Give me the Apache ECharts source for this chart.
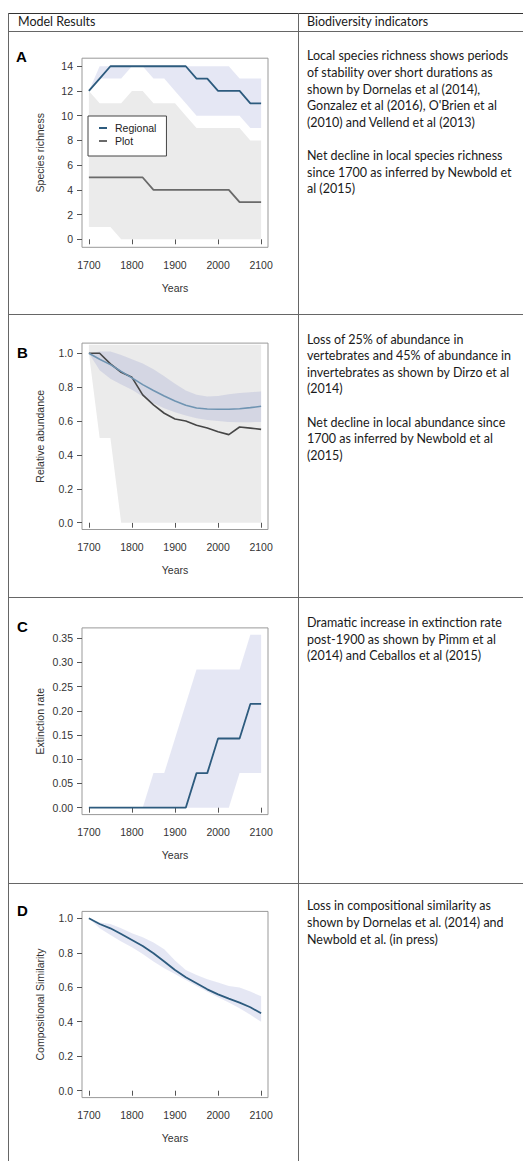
<!DOCTYPE html>
<html>
<head>
<meta charset="utf-8">
<script src="https://cdn.jsdelivr.net/npm/echarts@6/dist/echarts.min.js"></script>
<style>
html,body{margin:0;padding:0;background:#fff;width:523px;height:1161px;overflow:hidden}
#chart{position:absolute;left:0;top:0;width:523px;height:1161px}
.ln{position:absolute;background:#555}
.t{position:absolute;font-family:Lato,"Open Sans",sans-serif;font-size:12.5px;line-height:16.6px;color:#1a1a1a;white-space:nowrap}
.lab{position:absolute;font-family:"Liberation Sans",Arial,sans-serif;font-weight:bold;font-size:15px;line-height:16px;color:#000}
</style>
</head>
<body>
<div id="chart"></div>
<!-- table frame -->
<div class="ln" style="left:8px;top:13px;width:515px;height:1px;background:#333"></div>
<div class="ln" style="left:8px;top:31px;width:515px;height:1px;background:#666"></div>
<div class="ln" style="left:8px;top:314px;width:515px;height:1px;background:#666"></div>
<div class="ln" style="left:8px;top:597px;width:515px;height:1px;background:#666"></div>
<div class="ln" style="left:8px;top:883px;width:515px;height:1px;background:#666"></div>
<div class="ln" style="left:8px;top:13px;width:1px;height:1148px;background:#666"></div>
<div class="ln" style="left:298px;top:13px;width:1px;height:1148px;background:#666"></div>
<!-- header -->
<div class="t" style="left:18px;top:14px">Model Results</div>
<div class="t" style="left:307px;top:14px">Biodiversity indicators</div>
<!-- panel letters -->
<div class="lab" style="left:16px;top:49px">A</div>
<div class="lab" style="left:17px;top:345px">B</div>
<div class="lab" style="left:17px;top:619px">C</div>
<div class="lab" style="left:17px;top:903px">D</div>
<!-- indicator texts -->
<div class="t" style="left:307px;top:48.4px">Local species richness shows periods<br>of stability over short durations as<br>shown by Dornelas et al (2014),<br>Gonzalez et al (2016), O'Brien et al<br>(2010) and Vellend et al (2013)<br><br>Net decline in local species richness<br>since 1700 as inferred by Newbold et<br>al (2015)</div>
<div class="t" style="left:307px;top:331.7px">Loss of 25% of abundance in<br>vertebrates and 45% of abundance in<br>invertebrates as shown by Dirzo et al<br>(2014)<br><br>Net decline in local abundance since<br>1700 as inferred by Newbold et al<br>(2015)</div>
<div class="t" style="left:307px;top:615px">Dramatic increase in extinction rate<br>post-1900 as shown by Pimm et al<br>(2014) and Ceballos et al (2015)</div>
<div class="t" style="left:307px;top:898.4px">Loss in compositional similarity as<br>shown by Dornelas et al. (2014) and<br>Newbold et al. (in press)</div>
<script>
// ---------------- DATA ----------------
const years = [1700,1725,1750,1775,1800,1825,1850,1875,1900,1925,1950,1975,2000,2025,2050,2075,2100];

// Panel A: species richness
const regionalA   = [12,13,14,14,14,14,14,14,14,14,13,13,12,12,12,11,11];
const regionalLoA = [12,13,13,13,14,14,13,13,12,11,10,10,10,10,10,9,9];
const regionalHiA = [12,14,14,14,14,14,14,14,14,14,14,14,14,14,13,13,13];
const plotA       = [5,5,5,5,5,5,4,4,4,4,4,4,4,4,3,3,3];
const plotLoA     = [1,1,1,0,0,0,0,0,0,0,0,0,0,0,0,0,0];
const plotHiA     = [12,11,11,11,12,12,11,11,11,10,9,9,9,9,9,8,8];

// Panel B: relative abundance
const regionalB   = [1.0,0.965,0.933,0.893,0.855,0.815,0.78,0.748,0.718,0.693,0.677,0.671,0.670,0.670,0.673,0.679,0.687];
const regionalLoB = [1.0,0.9,0.85,0.815,0.785,0.745,0.705,0.675,0.652,0.633,0.617,0.606,0.6,0.595,0.593,0.593,0.595];
const regionalHiB = [1.0,1.01,1.01,0.99,0.965,0.94,0.905,0.865,0.82,0.78,0.755,0.745,0.748,0.758,0.765,0.77,0.775];
const plotB       = [1.0,1.0,0.937,0.888,0.858,0.754,0.695,0.646,0.612,0.6,0.575,0.559,0.537,0.52,0.565,0.558,0.551];
const plotLoB     = [1.0,0.5,0.5,0,0,0,0,0,0,0,0,0,0,0,0,0,0];
const plotHiB     = [1.05,1.05,1.05,1.05,1.05,1.05,1.05,1.05,1.05,1.05,1.05,1.05,1.05,1.05,1.05,1.05,1.05];

// Panel C: extinction rate
const regionalC   = [0,0,0,0,0,0,0,0,0,0,0.0714,0.0714,0.1429,0.1429,0.1429,0.2143,0.2143];
const regionalLoC = [0,0,0,0,0,0,0,0,0,0,0,0,0,0,0.0714,0.0714,0.0714];
const regionalHiC = [0,0,0,0,0,0,0.0714,0.0714,0.1429,0.2143,0.2857,0.2857,0.2857,0.2857,0.2857,0.3571,0.3571];

// Panel D: compositional similarity
const regionalD   = [1.0,0.967,0.942,0.909,0.874,0.839,0.797,0.749,0.70,0.658,0.623,0.588,0.559,0.534,0.511,0.484,0.449];
const regionalLoD = [1.0,0.942,0.903,0.865,0.832,0.793,0.749,0.71,0.677,0.642,0.607,0.574,0.542,0.511,0.478,0.44,0.40];
const regionalHiD = [1.0,0.975,0.967,0.942,0.913,0.89,0.859,0.82,0.755,0.70,0.671,0.646,0.627,0.607,0.598,0.575,0.548];

// Tick labels
const xTicks  = [1700,1800,1900,2000,2100];
const yTicksA = [0,2,4,6,8,10,12,14];
const yTicksB = [0,0.2,0.4,0.6,0.8,1.0];
const yTicksC = [0,0.05,0.1,0.15,0.2,0.25,0.3,0.35];
const yTicksD = [0,0.2,0.4,0.6,0.8,1.0];
const yNames  = ['Species richness','Relative abundance','Extinction rate','Compositional Similarity'];

// ---------------- STYLE / LAYOUT ----------------
const FONT = '"Liberation Sans", Arial, sans-serif';
const GRAY_BAND = '#ebebeb';
const LAV_BAND = 'rgba(95,105,185,0.16)';
const BLUE = '#2d5b7e';
const grids = [
  {top:58.2, height:189.1},
  {top:343.1, height:186.4},
  {top:627.9, height:186.7},
  {top:911.4, height:186.2}
];
const yRanges = [[-0.65,14.65],[-0.04,1.06],[-0.0143,0.3714],[-0.04,1.04]];
const yTickSets = [yTicksA,yTicksB,yTicksC,yTicksD];
const yDigits = [0,1,2,1];

function xAx(i){
  return {gridIndex:i,type:'value',min:1684,max:2116,
    axisLine:{show:false},splitLine:{show:false},
    axisTick:{show:true,length:5,lineStyle:{color:'#555'},customValues:xTicks},
    axisLabel:{customValues:xTicks,margin:12,fontSize:10.5,color:'#333',fontFamily:FONT,
      formatter:v=>String(Math.round(v))},
    name:'Years',nameLocation:'middle',nameGap:35,
    nameTextStyle:{fontSize:10.5,color:'#333',fontFamily:FONT}};
}
function yAx(i){
  const d=yDigits[i];
  return {gridIndex:i,type:'value',min:yRanges[i][0],max:yRanges[i][1],
    axisLine:{show:false},splitLine:{show:false},
    axisTick:{show:true,length:5,lineStyle:{color:'#555'},customValues:yTickSets[i]},
    axisLabel:{customValues:yTickSets[i],margin:9,fontSize:10.5,color:'#333',fontFamily:FONT,
      formatter:v=>Number(v).toFixed(d)},
    name:yNames[i],nameLocation:'middle',nameGap:37,nameRotate:90,
    nameTextStyle:{fontSize:10.5,color:'#333',fontFamily:FONT}};
}
function ribbon(i,lo,hi,color,z){
  return {type:'custom',xAxisIndex:i,yAxisIndex:i,z:z,silent:true,
    data:years.map((y,k)=>[y,lo[k],hi[k]]),
    encode:{x:0,y:[1,2]},
    renderItem:function(params,api){
      if(params.dataIndex!==0) return null;
      const pts=[];
      for(let k=0;k<years.length;k++) pts.push(api.coord([years[k],hi[k]]));
      for(let k=years.length-1;k>=0;k--) pts.push(api.coord([years[k],lo[k]]));
      return {type:'polygon',shape:{points:pts},style:{fill:color}};
    }};
}
function line(i,vals,color,width,name){
  return {type:'line',name:name,xAxisIndex:i,yAxisIndex:i,z:5,
    showSymbol:false,symbol:'none',silent:true,
    data:years.map((y,k)=>[y,vals[k]]),
    lineStyle:{color:color,width:width},itemStyle:{color:color}};
}

const chart = echarts.init(document.getElementById('chart'),null,{renderer:'svg'});
chart.setOption({
  animation:false,
  backgroundColor:'transparent',
  grid:grids.map(g=>({left:82,width:186,top:g.top,height:g.height,show:true,
    borderColor:'#999',borderWidth:1,backgroundColor:'transparent'})),
  xAxis:[0,1,2,3].map(xAx),
  yAxis:[0,1,2,3].map(yAx),
  legend:{data:['Regional','Plot'],orient:'vertical',left:88,top:116,
    selectedMode:false,icon:'rect',itemWidth:8,itemHeight:2,itemGap:1,
    padding:[6,10,9,11],borderColor:'#444',borderWidth:1,backgroundColor:'#fff',
    textStyle:{fontSize:10.5,lineHeight:12,color:'#222',fontFamily:FONT,padding:[0,0,0,3]}},
  series:[
    ribbon(0,plotLoA,plotHiA,GRAY_BAND,1),
    ribbon(0,regionalLoA,regionalHiA,LAV_BAND,2),
    line(0,plotA,'#6a6a6a',1.8,'Plot'),
    line(0,regionalA,BLUE,1.8,'Regional'),

    ribbon(1,plotLoB,plotHiB,GRAY_BAND,1),
    ribbon(1,regionalLoB,regionalHiB,LAV_BAND,2),
    line(1,plotB,'#464646',1.6,'Plot B'),
    line(1,regionalB,'#6f94b2',1.6,'Regional B'),

    ribbon(2,regionalLoC,regionalHiC,LAV_BAND,2),
    line(2,regionalC,BLUE,1.8,'Regional C'),

    ribbon(3,regionalLoD,regionalHiD,LAV_BAND,2),
    line(3,regionalD,BLUE,1.8,'Regional D')
  ]
});
</script>
</body>
</html>
